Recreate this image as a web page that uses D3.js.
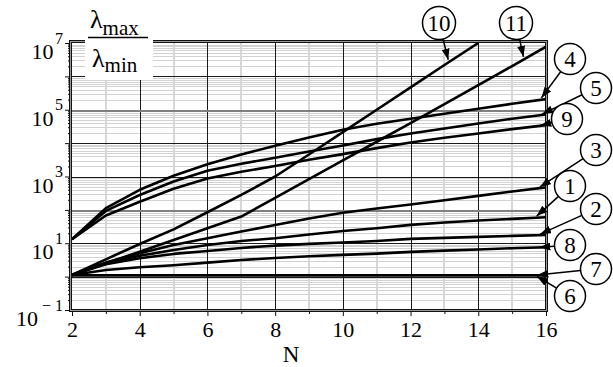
<!DOCTYPE html>
<html><head><meta charset="utf-8">
<script src="https://cdn.jsdelivr.net/npm/d3@7"></script>
<style>
body{margin:0;background:#fff}
svg{display:block}
svg text{font-family:'Liberation Serif','DejaVu Serif',serif !important;fill:#000}
</style>
</head><body>
<svg id="c" width="613" height="367"></svg>
<script>
// ---------- data ----------
const N = [2,3,4,5,6,7,8,9,10,11,12,13,14,15,16];
const curve1  = [1.12, 2.5, 4.2, 6.3, 8.9, 11.7, 14.1, 18.2, 23.3, 28.2, 35.5, 41.7, 47.9, 53.7, 60.3];
const curve2  = [1.12, 2.34, 3.55, 4.79, 5.89, 7.24, 8.51, 9.55, 10.5, 11.7, 13.5, 14.5, 15.5, 16.6, 17.7];
const curve3  = [1.12, 2.63, 5.0, 8.9, 14.1, 22.4, 35.2, 55, 82, 110, 145, 195, 263, 355, 474];
const curve4  = [13.2, 112, 400, 1050, 2340, 4570, 8300, 14800, 25100, 38000, 53700, 75900, 107000, 151000, 209000];
const curve5  = [13.2, 93, 279, 708, 1480, 2400, 3660, 5620, 8510, 13200, 19500, 27500, 38900, 53700, 72400];
const curve6  = [1.1, 1.1, 1.1, 1.1, 1.1, 1.1, 1.1, 1.1, 1.1, 1.1, 1.1, 1.1, 1.1, 1.1, 1.1];
const curve7  = [1.1, 1.1, 1.1, 1.1, 1.1, 1.1, 1.1, 1.1, 1.1, 1.1, 1.1, 1.1, 1.1, 1.1, 1.1];
const curve8  = [1.12, 1.58, 1.91, 2.19, 2.63, 3.16, 3.63, 4.07, 4.47, 4.9, 5.5, 6.0, 6.5, 7.1, 7.55];
const curve9  = [13.2, 67.6, 176, 427, 871, 1380, 2070, 3160, 4680, 7080, 10500, 14500, 19500, 26300, 34700];
const curve10 = [1.12, 3.3, 9.5, 26, 85, 280, 1000, 4570, 21400, 100000, 468000, 2.19e6, 1.0e7];
const curve11 = [1.12, 2.5, 5.6, 12.6, 28, 63, 229, 832, 3020, 11000, 39800, 148000, 550000, 2.04e6, 7.76e6];

const xTickLabels = [2,4,6,8,10,12,14,16];
const xMinorTicks = [3,5,7,9,11,13,15];
const yLabelExponents = [7,5,3,1,-1];
const xTitle = "N";

const seriesList = [
  {id:"1", values:curve1}, {id:"2", values:curve2}, {id:"3", values:curve3},
  {id:"4", values:curve4}, {id:"5", values:curve5}, {id:"6", values:curve6},
  {id:"7", values:curve7}, {id:"8", values:curve8}, {id:"9", values:curve9},
  {id:"10", values:curve10}, {id:"11", values:curve11}
];

// annotation layout (circle centre + N where the arrow points)
const annotations = [
  {id:"10", cx:439, cy:23, r:16.5, tipN:13.13},
  {id:"11", cx:516, cy:23, r:16.5, tipN:15.35},
  {id:"4",  cx:570, cy:59, r:15.5, tipN:15.82},
  {id:"5",  cx:596, cy:88, r:15.5, tipN:15.82},
  {id:"9",  cx:567, cy:119, r:15.5, tipN:15.76},
  {id:"3",  cx:596, cy:150, r:15.5, tipN:15.76},
  {id:"1",  cx:570, cy:186, r:15.5, tipN:15.67},
  {id:"2",  cx:596, cy:209, r:15.5, tipN:15.76},
  {id:"8",  cx:570, cy:245, r:15.5, tipN:15.73},
  {id:"7",  cx:596, cy:269, r:15.5, tipN:15.67},
  {id:"6",  cx:570, cy:296, r:15.5, tipN:15.67}
];

const SERIF = "'Liberation Serif','DejaVu Serif',serif";

// ---------- scales ----------
const x = d3.scaleLinear().domain([2,16]).range([72,546]);
const y = d3.scaleLog().domain([0.1,1e7]).range([310,43]);
const [x0,x1] = x.range(); const [y0,y1] = [y.range()[1], y.range()[0]];

const svg = d3.select("#c");
const isDecade = v => Math.abs(Math.log10(v) - Math.round(Math.log10(v))) < 1e-9;

// ---------- grid ----------
const grid = svg.append("g").attr("shape-rendering","crispEdges");
const yAll = y.ticks();
grid.selectAll("line.hmin").data(yAll.filter(v=>!isDecade(v))).join("line")
  .attr("x1",x0).attr("x2",x1).attr("y1",d=>Math.round(y(d))+0.5).attr("y2",d=>Math.round(y(d))+0.5)
  .attr("stroke","#d2d2d2").attr("stroke-width",1);
grid.selectAll("line.vmin").data(xMinorTicks).join("line")
  .attr("x1",d=>x(d)).attr("x2",d=>x(d)).attr("y1",y0).attr("y2",y1)
  .attr("stroke","#d6d6d6").attr("stroke-width",2);
grid.selectAll("line.vmaj").data(xTickLabels.filter(d=>d>2&&d<16)).join("line")
  .attr("x1",d=>Math.round(x(d))+0.5).attr("x2",d=>Math.round(x(d))+0.5).attr("y1",y0).attr("y2",y1)
  .attr("stroke","#1a1a1a").attr("stroke-width",1);
grid.selectAll("line.hmaj").data(yAll.filter(v=>isDecade(v) && v>0.1 && v<1e7)).join("line")
  .attr("x1",x0).attr("x2",x1).attr("y1",d=>Math.round(y(d))+0.5).attr("y2",d=>Math.round(y(d))+0.5)
  .attr("stroke",d=>(Math.round(Math.log10(d))===2||Math.round(Math.log10(d))===5)?"#808080":"#1a1a1a")
  .attr("stroke-width",d=>(Math.round(Math.log10(d))===2||Math.round(Math.log10(d))===5)?2:1);

// ---------- axes ticks ----------
const yMinorAxis = d3.axisLeft(y).tickValues(yAll.filter(v=>!isDecade(v))).tickSize(4).tickFormat("");
const yMajorAxis = d3.axisLeft(y).tickValues(yAll.filter(isDecade)).tickSize(7).tickFormat("");
const yLabelAxis = d3.axisLeft(y).tickValues(yLabelExponents.map(e=>Math.pow(10,e))).tickSize(0);
const gy1 = svg.append("g").attr("transform",`translate(${x0},0)`).call(yMinorAxis);
const gy2 = svg.append("g").attr("transform",`translate(${x0},0)`).call(yMajorAxis);
const gy3 = svg.append("g").attr("transform",`translate(${x0},0)`).call(yLabelAxis);
[gy1,gy2,gy3].forEach(g=>{g.select(".domain").remove(); g.attr("font-family",null).selectAll("line").attr("stroke","#111");});
gy3.selectAll(".tick text").each(function(d){
  const e = Math.round(Math.log10(d));
  const t = d3.select(this).text(null)
    .attr("x",-9).attr("y",15.5).attr("dy",null)
    .attr("text-anchor","end").style("font-family",SERIF).attr("fill","#000");
  t.append("tspan").attr("font-size","22px").text("10");
  t.append("tspan").attr("font-size","16px").attr("dy",-15.5).attr("dx", e<0?4:1.5)
    .text(e<0 ? "\u2212 " + Math.abs(e) : String(e));
});

const xMajorAxis = d3.axisBottom(x).tickValues(xTickLabels).tickSize(6).tickFormat(d3.format("d"));
const xMinorAxis = d3.axisBottom(x).tickValues(xMinorTicks).tickSize(4).tickFormat("");
const gx1 = svg.append("g").attr("transform",`translate(0,${y1})`).call(xMajorAxis);
const gx2 = svg.append("g").attr("transform",`translate(0,${y1})`).call(xMinorAxis);
[gx1,gx2].forEach(g=>{g.select(".domain").remove(); g.attr("font-family",null).selectAll("line").attr("stroke","#111");});
gx1.selectAll(".tick text").attr("y",27).attr("dy",null).attr("font-size","22px")
  .style("font-family",SERIF).attr("fill","#000");

svg.append("text").attr("x",291).attr("y",362).attr("text-anchor","middle")
  .style("font-family",SERIF).attr("font-size","23px").text(xTitle);

// ---------- frame ----------
const frame = svg.append("g").attr("shape-rendering","crispEdges").attr("fill","none");
frame.append("rect").attr("x",x0-1.5).attr("y",y0-1.5).attr("width",x1-x0+2).attr("height",y1-y0+2).attr("stroke","#999");
frame.append("rect").attr("x",x0-2.5).attr("y",y0-2.5).attr("width",x1-x0+4).attr("height",y1-y0+4).attr("stroke","#111");
frame.append("rect").attr("x",x0-0.5).attr("y",y0-0.5).attr("width",x1-x0).attr("height",y1-y0).attr("stroke","#111");

// ---------- curves ----------
svg.append("clipPath").attr("id","plotclip").append("rect")
  .attr("x",x0).attr("y",y0).attr("width",x1-x0).attr("height",y1-y0);
const line = d3.line().x((v,i)=>x(N[i])).y(v=>y(v));
svg.append("g").attr("clip-path","url(#plotclip)")
  .selectAll("path").data(seriesList).join("path")
  .attr("d",s=>line(s.values)).attr("fill","none").attr("stroke","#000")
  .attr("stroke-width",2.6).attr("stroke-linejoin","round");

// ---------- title box ----------
svg.append("rect").attr("x",85).attr("y",0).attr("width",68).attr("height",80).attr("fill","#fff");
const num = svg.append("text").attr("x",90).attr("y",28).style("font-family",SERIF);
num.append("tspan").attr("font-size","26px").text("\u03bb");
num.append("tspan").attr("font-size","21px").attr("dy",7).text("max");
svg.append("line").attr("x1",88).attr("x2",148).attr("y1",37.5).attr("y2",37.5).attr("stroke","#000").attr("stroke-width",1.3);
const den = svg.append("text").attr("x",92).attr("y",67).style("font-family",SERIF);
den.append("tspan").attr("font-size","26px").text("\u03bb");
den.append("tspan").attr("font-size","21px").attr("dy",5).text("min");

// ---------- annotations ----------
const defs = svg.append("defs");
defs.append("marker").attr("id","arr").attr("markerUnits","userSpaceOnUse")
  .attr("markerWidth",11).attr("markerHeight",8).attr("refX",11).attr("refY",4).attr("orient","auto")
  .append("path").attr("d","M0,0 L11,4 L0,8 Z").attr("fill","#000");

function valueAt(vals, n){
  const i = Math.min(Math.floor(n)-2, vals.length-2);
  const t = n - N[i];
  return Math.pow(10, Math.log10(vals[i])*(1-t) + Math.log10(vals[i+1])*t);
}
const ann = svg.append("g");
annotations.forEach(a=>{
  const s = seriesList.find(d=>d.id===a.id);
  const px = x(a.tipN), py = y(valueAt(s.values,a.tipN));
  const dx = a.cx-px, dy = a.cy-py, L = Math.hypot(dx,dy);
  const tx = px + 2.5*dx/L, ty = py + 2.5*dy/L;
  const sx = a.cx - a.r*dx/L, sy = a.cy - a.r*dy/L;
  ann.append("line").attr("x1",sx).attr("y1",sy).attr("x2",tx).attr("y2",ty)
    .attr("stroke","#000").attr("stroke-width",1.5).attr("marker-end","url(#arr)");
  ann.append("circle").attr("cx",a.cx).attr("cy",a.cy).attr("r",a.r)
    .attr("fill","#fff").attr("stroke","#000").attr("stroke-width",1.5);
  ann.append("text").attr("x",a.cx).attr("y",a.cy+8).attr("text-anchor","middle")
    .style("font-family",SERIF).attr("font-size","23px").text(a.id);
});
</script>
</body></html>
